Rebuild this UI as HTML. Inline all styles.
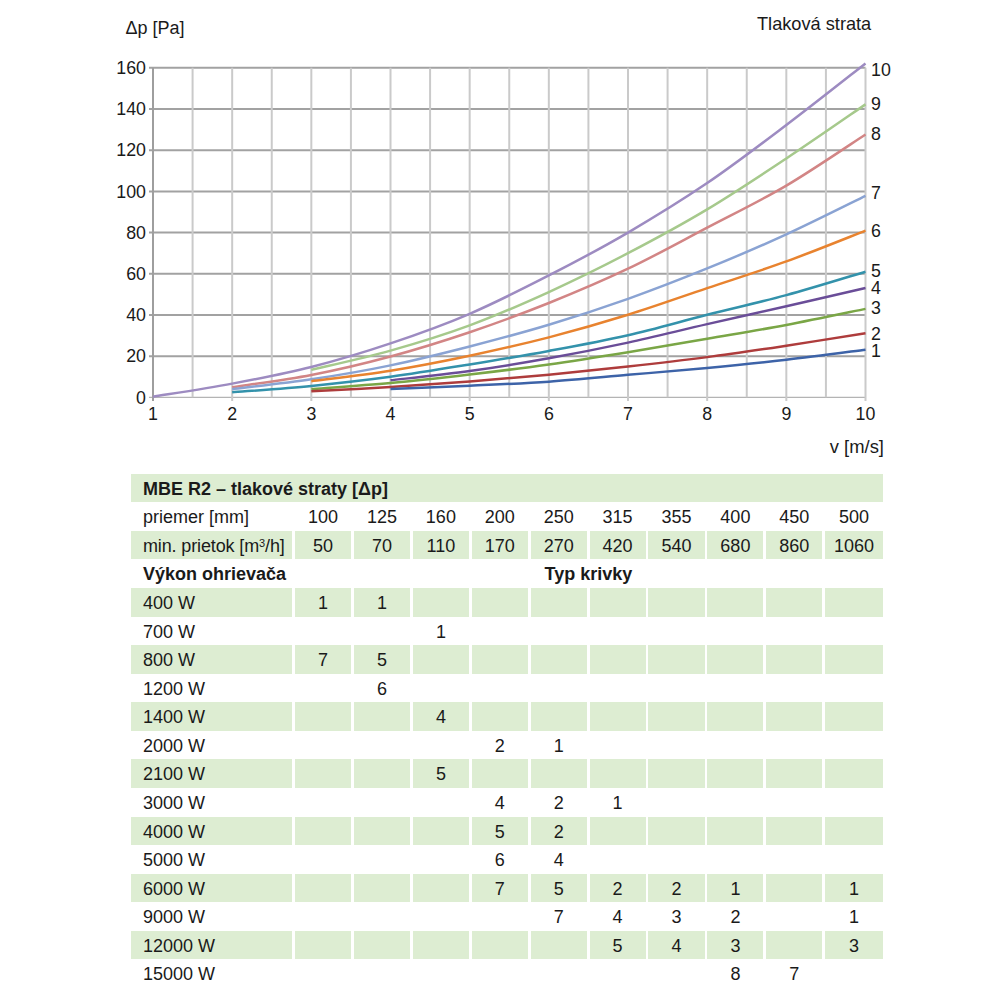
<!DOCTYPE html>
<html><head><meta charset="utf-8"><style>
html,body{margin:0;padding:0;background:#fff;}
body{width:1000px;height:1000px;position:relative;overflow:hidden;font-family:"Liberation Sans", sans-serif;color:#1a1a1a;}
svg text{font-family:"Liberation Sans", sans-serif;}
.bg{position:absolute;background:#ddedd2;}
.t{position:absolute;font-size:18px;line-height:18px;height:18px;white-space:nowrap;}
.t.b{font-weight:bold;}
.t.c{width:80px;text-align:center;}
sup{font-size:11px;vertical-align:top;line-height:11px;position:relative;top:1px;}
</style></head><body>
<svg width="1000" height="470" viewBox="0 0 1000 470" style="position:absolute;left:0;top:0"><line x1="149" y1="356.16" x2="865.50" y2="356.16" stroke="#a2a2a2" stroke-width="2"/><line x1="149" y1="314.96" x2="865.50" y2="314.96" stroke="#a2a2a2" stroke-width="2"/><line x1="149" y1="273.77" x2="865.50" y2="273.77" stroke="#a2a2a2" stroke-width="2"/><line x1="149" y1="232.57" x2="865.50" y2="232.57" stroke="#a2a2a2" stroke-width="2"/><line x1="149" y1="191.38" x2="865.50" y2="191.38" stroke="#a2a2a2" stroke-width="2"/><line x1="149" y1="150.19" x2="865.50" y2="150.19" stroke="#a2a2a2" stroke-width="2"/><line x1="149" y1="108.99" x2="865.50" y2="108.99" stroke="#a2a2a2" stroke-width="2"/><line x1="149" y1="67.80" x2="865.50" y2="67.80" stroke="#a2a2a2" stroke-width="2"/><line x1="149" y1="397.35" x2="865.50" y2="397.35" stroke="#b4b4b4" stroke-width="1.2"/><line x1="192.58" y1="67.80" x2="192.58" y2="397.35" stroke="#cacaca" stroke-width="2"/><line x1="232.17" y1="67.80" x2="232.17" y2="401.00" stroke="#cacaca" stroke-width="2"/><line x1="271.75" y1="67.80" x2="271.75" y2="397.35" stroke="#cacaca" stroke-width="2"/><line x1="311.33" y1="67.80" x2="311.33" y2="401.00" stroke="#cacaca" stroke-width="2"/><line x1="350.92" y1="67.80" x2="350.92" y2="397.35" stroke="#cacaca" stroke-width="2"/><line x1="390.50" y1="67.80" x2="390.50" y2="401.00" stroke="#cacaca" stroke-width="2"/><line x1="430.08" y1="67.80" x2="430.08" y2="397.35" stroke="#cacaca" stroke-width="2"/><line x1="469.67" y1="67.80" x2="469.67" y2="401.00" stroke="#cacaca" stroke-width="2"/><line x1="509.25" y1="67.80" x2="509.25" y2="397.35" stroke="#cacaca" stroke-width="2"/><line x1="548.83" y1="67.80" x2="548.83" y2="401.00" stroke="#cacaca" stroke-width="2"/><line x1="588.42" y1="67.80" x2="588.42" y2="397.35" stroke="#cacaca" stroke-width="2"/><line x1="628.00" y1="67.80" x2="628.00" y2="401.00" stroke="#cacaca" stroke-width="2"/><line x1="667.58" y1="67.80" x2="667.58" y2="397.35" stroke="#cacaca" stroke-width="2"/><line x1="707.17" y1="67.80" x2="707.17" y2="401.00" stroke="#cacaca" stroke-width="2"/><line x1="746.75" y1="67.80" x2="746.75" y2="397.35" stroke="#cacaca" stroke-width="2"/><line x1="786.33" y1="67.80" x2="786.33" y2="401.00" stroke="#cacaca" stroke-width="2"/><line x1="825.92" y1="67.80" x2="825.92" y2="397.35" stroke="#cacaca" stroke-width="2"/><line x1="865.50" y1="67.80" x2="865.50" y2="401.00" stroke="#cacaca" stroke-width="2"/><line x1="153.00" y1="67.80" x2="153.00" y2="401" stroke="#9e9e9e" stroke-width="2"/><path d="M153.00,396.73 C166.19,394.55 205.78,388.58 232.17,383.62 C258.56,378.65 284.94,373.64 311.33,366.93 C337.72,360.22 364.11,352.23 390.50,343.37 C416.89,334.51 443.28,325.10 469.67,313.79 C496.06,302.47 522.44,289.01 548.83,275.47 C575.22,261.93 601.61,247.94 628.00,232.55 C654.39,217.15 680.78,201.00 707.17,183.09 C733.56,165.17 759.94,145.00 786.33,125.06 C812.72,105.12 852.31,73.72 865.50,63.45" fill="none" stroke="#9d8bc1" stroke-width="2.5"/><path d="M311.33,369.91 C324.53,366.69 364.11,358.04 390.50,350.62 C416.89,343.19 443.28,335.13 469.67,325.37 C496.06,315.60 522.44,304.06 548.83,292.04 C575.22,280.01 601.61,266.98 628.00,253.21 C654.39,239.44 680.78,225.21 707.17,209.42 C733.56,193.63 759.94,175.98 786.33,158.47 C812.72,140.97 852.31,113.38 865.50,104.36" fill="none" stroke="#a6c98c" stroke-width="2.5"/><path d="M232.17,387.18 C245.36,385.14 284.94,380.10 311.33,374.99 C337.72,369.87 364.11,363.61 390.50,356.48 C416.89,349.34 443.28,341.11 469.67,332.20 C496.06,323.29 522.44,313.60 548.83,303.02 C575.22,292.44 601.61,281.29 628.00,268.72 C654.39,256.16 680.78,241.50 707.17,227.65 C733.56,213.80 759.94,201.15 786.33,185.63 C812.72,170.10 852.31,143.02 865.50,134.49" fill="none" stroke="#d28585" stroke-width="2.5"/><path d="M232.17,389.14 C245.36,387.50 284.94,383.29 311.33,379.33 C337.72,375.37 364.11,370.85 390.50,365.38 C416.89,359.90 443.28,353.24 469.67,346.47 C496.06,339.70 522.44,332.70 548.83,324.76 C575.22,316.82 601.61,308.22 628.00,298.83 C654.39,289.45 680.78,279.18 707.17,268.44 C733.56,257.70 759.94,246.47 786.33,234.37 C812.72,222.28 852.31,202.30 865.50,195.88" fill="none" stroke="#8aa3d3" stroke-width="2.5"/><path d="M311.33,381.19 C324.53,379.44 364.11,374.94 390.50,370.70 C416.89,366.45 443.28,361.26 469.67,355.70 C496.06,350.14 522.44,344.16 548.83,337.34 C575.22,330.51 601.61,322.94 628.00,314.74 C654.39,306.54 680.78,297.01 707.17,288.12 C733.56,279.24 759.94,271.02 786.33,261.44 C812.72,251.85 852.31,235.76 865.50,230.63" fill="none" stroke="#e8832f" stroke-width="2.5"/><path d="M232.17,392.30 C245.36,391.23 284.94,388.48 311.33,385.90 C337.72,383.31 364.11,380.34 390.50,376.77 C416.89,373.20 443.28,368.79 469.67,364.48 C496.06,360.18 522.44,355.81 548.83,350.93 C575.22,346.05 601.61,341.22 628.00,335.20 C654.39,329.18 680.78,321.47 707.17,314.79 C733.56,308.11 759.94,302.32 786.33,295.14 C812.72,287.97 852.31,275.64 865.50,271.74" fill="none" stroke="#3392ab" stroke-width="2.5"/><path d="M390.50,380.32 C403.69,378.77 443.28,374.69 469.67,371.01 C496.06,367.33 522.44,362.98 548.83,358.25 C575.22,353.52 601.61,348.33 628.00,342.65 C654.39,336.96 680.78,330.19 707.17,324.14 C733.56,318.08 759.94,312.33 786.33,306.32 C812.72,300.30 852.31,291.07 865.50,288.02" fill="none" stroke="#6a4d98" stroke-width="2.5"/><path d="M311.33,389.07 C324.53,388.07 364.11,385.50 390.50,383.08 C416.89,380.66 443.28,377.65 469.67,374.54 C496.06,371.44 522.44,368.18 548.83,364.45 C575.22,360.72 601.61,356.47 628.00,352.18 C654.39,347.89 680.78,343.23 707.17,338.70 C733.56,334.17 759.94,329.96 786.33,324.99 C812.72,320.02 852.31,311.57 865.50,308.89" fill="none" stroke="#7aa646" stroke-width="2.5"/><path d="M311.33,391.24 C324.53,390.53 364.11,388.63 390.50,387.01 C416.89,385.39 443.28,383.56 469.67,381.53 C496.06,379.49 522.44,377.28 548.83,374.78 C575.22,372.28 601.61,369.48 628.00,366.54 C654.39,363.60 680.78,360.61 707.17,357.13 C733.56,353.66 759.94,349.66 786.33,345.68 C812.72,341.70 852.31,335.31 865.50,333.24" fill="none" stroke="#ae3c3c" stroke-width="2.5"/><path d="M390.50,389.09 C403.69,388.52 443.28,386.91 469.67,385.67 C496.06,384.43 522.44,383.45 548.83,381.65 C575.22,379.85 601.61,377.16 628.00,374.87 C654.39,372.58 680.78,370.41 707.17,367.89 C733.56,365.37 759.94,362.77 786.33,359.74 C812.72,356.71 852.31,351.37 865.50,349.69" fill="none" stroke="#3d63a8" stroke-width="2.5"/><text x="146" y="403.55" text-anchor="end" font-size="17.8" fill="#1a1a1a">0</text><text x="146" y="362.36" text-anchor="end" font-size="17.8" fill="#1a1a1a">20</text><text x="146" y="321.16" text-anchor="end" font-size="17.8" fill="#1a1a1a">40</text><text x="146" y="279.97" text-anchor="end" font-size="17.8" fill="#1a1a1a">60</text><text x="146" y="238.77" text-anchor="end" font-size="17.8" fill="#1a1a1a">80</text><text x="146" y="197.58" text-anchor="end" font-size="17.8" fill="#1a1a1a">100</text><text x="146" y="156.39" text-anchor="end" font-size="17.8" fill="#1a1a1a">120</text><text x="146" y="115.19" text-anchor="end" font-size="17.8" fill="#1a1a1a">140</text><text x="146" y="74.00" text-anchor="end" font-size="17.8" fill="#1a1a1a">160</text><text x="153.00" y="419.5" text-anchor="middle" font-size="17.8" fill="#1a1a1a">1</text><text x="232.17" y="419.5" text-anchor="middle" font-size="17.8" fill="#1a1a1a">2</text><text x="311.33" y="419.5" text-anchor="middle" font-size="17.8" fill="#1a1a1a">3</text><text x="390.50" y="419.5" text-anchor="middle" font-size="17.8" fill="#1a1a1a">4</text><text x="469.67" y="419.5" text-anchor="middle" font-size="17.8" fill="#1a1a1a">5</text><text x="548.83" y="419.5" text-anchor="middle" font-size="17.8" fill="#1a1a1a">6</text><text x="628.00" y="419.5" text-anchor="middle" font-size="17.8" fill="#1a1a1a">7</text><text x="707.17" y="419.5" text-anchor="middle" font-size="17.8" fill="#1a1a1a">8</text><text x="786.33" y="419.5" text-anchor="middle" font-size="17.8" fill="#1a1a1a">9</text><text x="865.50" y="419.5" text-anchor="middle" font-size="17.8" fill="#1a1a1a">10</text><text x="871" y="76.20" font-size="17.8" fill="#1a1a1a">10</text><text x="871" y="110.20" font-size="17.8" fill="#1a1a1a">9</text><text x="871" y="140.20" font-size="17.8" fill="#1a1a1a">8</text><text x="871" y="199.20" font-size="17.8" fill="#1a1a1a">7</text><text x="871" y="237.20" font-size="17.8" fill="#1a1a1a">6</text><text x="871" y="276.90" font-size="17.8" fill="#1a1a1a">5</text><text x="871" y="293.80" font-size="17.8" fill="#1a1a1a">4</text><text x="871" y="314.20" font-size="17.8" fill="#1a1a1a">3</text><text x="871" y="339.70" font-size="17.8" fill="#1a1a1a">2</text><text x="871" y="356.70" font-size="17.8" fill="#1a1a1a">1</text><text x="125.5" y="34.4" font-size="18" fill="#1a1a1a">Δp [Pa]</text><text x="757" y="29.8" font-size="18.2" fill="#1a1a1a">Tlaková strata</text><text x="829.8" y="453.2" font-size="18.4" fill="#1a1a1a">v [m/s]</text></svg>
<div class="bg" style="left:131.2px;top:473.70px;width:751.80px;height:28.57px"></div><div class="bg" style="left:131.2px;top:530.84px;width:160.80px;height:28.57px"></div><div class="bg" style="left:295.00px;top:530.84px;width:56.20px;height:28.57px"></div><div class="bg" style="left:353.90px;top:530.84px;width:56.20px;height:28.57px"></div><div class="bg" style="left:412.80px;top:530.84px;width:56.20px;height:28.57px"></div><div class="bg" style="left:471.70px;top:530.84px;width:56.20px;height:28.57px"></div><div class="bg" style="left:530.60px;top:530.84px;width:56.20px;height:28.57px"></div><div class="bg" style="left:589.50px;top:530.84px;width:56.20px;height:28.57px"></div><div class="bg" style="left:648.40px;top:530.84px;width:56.20px;height:28.57px"></div><div class="bg" style="left:707.30px;top:530.84px;width:56.20px;height:28.57px"></div><div class="bg" style="left:766.20px;top:530.84px;width:56.20px;height:28.57px"></div><div class="bg" style="left:825.10px;top:530.84px;width:57.90px;height:28.57px"></div><div class="bg" style="left:131.2px;top:587.98px;width:160.80px;height:28.57px"></div><div class="bg" style="left:295.00px;top:587.98px;width:56.20px;height:28.57px"></div><div class="bg" style="left:353.90px;top:587.98px;width:56.20px;height:28.57px"></div><div class="bg" style="left:412.80px;top:587.98px;width:56.20px;height:28.57px"></div><div class="bg" style="left:471.70px;top:587.98px;width:56.20px;height:28.57px"></div><div class="bg" style="left:530.60px;top:587.98px;width:56.20px;height:28.57px"></div><div class="bg" style="left:589.50px;top:587.98px;width:56.20px;height:28.57px"></div><div class="bg" style="left:648.40px;top:587.98px;width:56.20px;height:28.57px"></div><div class="bg" style="left:707.30px;top:587.98px;width:56.20px;height:28.57px"></div><div class="bg" style="left:766.20px;top:587.98px;width:56.20px;height:28.57px"></div><div class="bg" style="left:825.10px;top:587.98px;width:57.90px;height:28.57px"></div><div class="bg" style="left:131.2px;top:645.12px;width:160.80px;height:28.57px"></div><div class="bg" style="left:295.00px;top:645.12px;width:56.20px;height:28.57px"></div><div class="bg" style="left:353.90px;top:645.12px;width:56.20px;height:28.57px"></div><div class="bg" style="left:412.80px;top:645.12px;width:56.20px;height:28.57px"></div><div class="bg" style="left:471.70px;top:645.12px;width:56.20px;height:28.57px"></div><div class="bg" style="left:530.60px;top:645.12px;width:56.20px;height:28.57px"></div><div class="bg" style="left:589.50px;top:645.12px;width:56.20px;height:28.57px"></div><div class="bg" style="left:648.40px;top:645.12px;width:56.20px;height:28.57px"></div><div class="bg" style="left:707.30px;top:645.12px;width:56.20px;height:28.57px"></div><div class="bg" style="left:766.20px;top:645.12px;width:56.20px;height:28.57px"></div><div class="bg" style="left:825.10px;top:645.12px;width:57.90px;height:28.57px"></div><div class="bg" style="left:131.2px;top:702.26px;width:160.80px;height:28.57px"></div><div class="bg" style="left:295.00px;top:702.26px;width:56.20px;height:28.57px"></div><div class="bg" style="left:353.90px;top:702.26px;width:56.20px;height:28.57px"></div><div class="bg" style="left:412.80px;top:702.26px;width:56.20px;height:28.57px"></div><div class="bg" style="left:471.70px;top:702.26px;width:56.20px;height:28.57px"></div><div class="bg" style="left:530.60px;top:702.26px;width:56.20px;height:28.57px"></div><div class="bg" style="left:589.50px;top:702.26px;width:56.20px;height:28.57px"></div><div class="bg" style="left:648.40px;top:702.26px;width:56.20px;height:28.57px"></div><div class="bg" style="left:707.30px;top:702.26px;width:56.20px;height:28.57px"></div><div class="bg" style="left:766.20px;top:702.26px;width:56.20px;height:28.57px"></div><div class="bg" style="left:825.10px;top:702.26px;width:57.90px;height:28.57px"></div><div class="bg" style="left:131.2px;top:759.40px;width:160.80px;height:28.57px"></div><div class="bg" style="left:295.00px;top:759.40px;width:56.20px;height:28.57px"></div><div class="bg" style="left:353.90px;top:759.40px;width:56.20px;height:28.57px"></div><div class="bg" style="left:412.80px;top:759.40px;width:56.20px;height:28.57px"></div><div class="bg" style="left:471.70px;top:759.40px;width:56.20px;height:28.57px"></div><div class="bg" style="left:530.60px;top:759.40px;width:56.20px;height:28.57px"></div><div class="bg" style="left:589.50px;top:759.40px;width:56.20px;height:28.57px"></div><div class="bg" style="left:648.40px;top:759.40px;width:56.20px;height:28.57px"></div><div class="bg" style="left:707.30px;top:759.40px;width:56.20px;height:28.57px"></div><div class="bg" style="left:766.20px;top:759.40px;width:56.20px;height:28.57px"></div><div class="bg" style="left:825.10px;top:759.40px;width:57.90px;height:28.57px"></div><div class="bg" style="left:131.2px;top:816.54px;width:160.80px;height:28.57px"></div><div class="bg" style="left:295.00px;top:816.54px;width:56.20px;height:28.57px"></div><div class="bg" style="left:353.90px;top:816.54px;width:56.20px;height:28.57px"></div><div class="bg" style="left:412.80px;top:816.54px;width:56.20px;height:28.57px"></div><div class="bg" style="left:471.70px;top:816.54px;width:56.20px;height:28.57px"></div><div class="bg" style="left:530.60px;top:816.54px;width:56.20px;height:28.57px"></div><div class="bg" style="left:589.50px;top:816.54px;width:56.20px;height:28.57px"></div><div class="bg" style="left:648.40px;top:816.54px;width:56.20px;height:28.57px"></div><div class="bg" style="left:707.30px;top:816.54px;width:56.20px;height:28.57px"></div><div class="bg" style="left:766.20px;top:816.54px;width:56.20px;height:28.57px"></div><div class="bg" style="left:825.10px;top:816.54px;width:57.90px;height:28.57px"></div><div class="bg" style="left:131.2px;top:873.68px;width:160.80px;height:28.57px"></div><div class="bg" style="left:295.00px;top:873.68px;width:56.20px;height:28.57px"></div><div class="bg" style="left:353.90px;top:873.68px;width:56.20px;height:28.57px"></div><div class="bg" style="left:412.80px;top:873.68px;width:56.20px;height:28.57px"></div><div class="bg" style="left:471.70px;top:873.68px;width:56.20px;height:28.57px"></div><div class="bg" style="left:530.60px;top:873.68px;width:56.20px;height:28.57px"></div><div class="bg" style="left:589.50px;top:873.68px;width:56.20px;height:28.57px"></div><div class="bg" style="left:648.40px;top:873.68px;width:56.20px;height:28.57px"></div><div class="bg" style="left:707.30px;top:873.68px;width:56.20px;height:28.57px"></div><div class="bg" style="left:766.20px;top:873.68px;width:56.20px;height:28.57px"></div><div class="bg" style="left:825.10px;top:873.68px;width:57.90px;height:28.57px"></div><div class="bg" style="left:131.2px;top:930.82px;width:160.80px;height:28.57px"></div><div class="bg" style="left:295.00px;top:930.82px;width:56.20px;height:28.57px"></div><div class="bg" style="left:353.90px;top:930.82px;width:56.20px;height:28.57px"></div><div class="bg" style="left:412.80px;top:930.82px;width:56.20px;height:28.57px"></div><div class="bg" style="left:471.70px;top:930.82px;width:56.20px;height:28.57px"></div><div class="bg" style="left:530.60px;top:930.82px;width:56.20px;height:28.57px"></div><div class="bg" style="left:589.50px;top:930.82px;width:56.20px;height:28.57px"></div><div class="bg" style="left:648.40px;top:930.82px;width:56.20px;height:28.57px"></div><div class="bg" style="left:707.30px;top:930.82px;width:56.20px;height:28.57px"></div><div class="bg" style="left:766.20px;top:930.82px;width:56.20px;height:28.57px"></div><div class="bg" style="left:825.10px;top:930.82px;width:57.90px;height:28.57px"></div><div class="t b" style="left:143.0px;top:479.66px">MBE R2 – tlakové straty [Δp]</div><div class="t" style="left:143.0px;top:508.23px">priemer [mm]</div><div class="t c" style="left:283.10px;top:508.23px">100</div><div class="t c" style="left:342.00px;top:508.23px">125</div><div class="t c" style="left:400.90px;top:508.23px">160</div><div class="t c" style="left:459.80px;top:508.23px">200</div><div class="t c" style="left:518.70px;top:508.23px">250</div><div class="t c" style="left:577.60px;top:508.23px">315</div><div class="t c" style="left:636.50px;top:508.23px">355</div><div class="t c" style="left:695.40px;top:508.23px">400</div><div class="t c" style="left:754.30px;top:508.23px">450</div><div class="t c" style="left:814.05px;top:508.23px">500</div><div class="t" style="left:143.0px;top:536.80px;letter-spacing:-0.13px">min. prietok [m<sup>3</sup>/h]</div><div class="t c" style="left:283.10px;top:536.80px">50</div><div class="t c" style="left:342.00px;top:536.80px">70</div><div class="t c" style="left:400.90px;top:536.80px">110</div><div class="t c" style="left:459.80px;top:536.80px">170</div><div class="t c" style="left:518.70px;top:536.80px">270</div><div class="t c" style="left:577.60px;top:536.80px">420</div><div class="t c" style="left:636.50px;top:536.80px">540</div><div class="t c" style="left:695.40px;top:536.80px">680</div><div class="t c" style="left:754.30px;top:536.80px">860</div><div class="t c" style="left:814.05px;top:536.80px">1060</div><div class="t b" style="left:143.0px;top:565.37px">Výkon ohrievača</div><div class="t b" style="left:544.6px;top:565.37px">Typ krivky</div><div class="t" style="left:143.0px;top:593.94px">400 W</div><div class="t c" style="left:283.10px;top:593.94px">1</div><div class="t c" style="left:342.00px;top:593.94px">1</div><div class="t" style="left:143.0px;top:622.51px">700 W</div><div class="t c" style="left:400.90px;top:622.51px">1</div><div class="t" style="left:143.0px;top:651.08px">800 W</div><div class="t c" style="left:283.10px;top:651.08px">7</div><div class="t c" style="left:342.00px;top:651.08px">5</div><div class="t" style="left:143.0px;top:679.65px">1200 W</div><div class="t c" style="left:342.00px;top:679.65px">6</div><div class="t" style="left:143.0px;top:708.22px">1400 W</div><div class="t c" style="left:400.90px;top:708.22px">4</div><div class="t" style="left:143.0px;top:736.79px">2000 W</div><div class="t c" style="left:459.80px;top:736.79px">2</div><div class="t c" style="left:518.70px;top:736.79px">1</div><div class="t" style="left:143.0px;top:765.36px">2100 W</div><div class="t c" style="left:400.90px;top:765.36px">5</div><div class="t" style="left:143.0px;top:793.93px">3000 W</div><div class="t c" style="left:459.80px;top:793.93px">4</div><div class="t c" style="left:518.70px;top:793.93px">2</div><div class="t c" style="left:577.60px;top:793.93px">1</div><div class="t" style="left:143.0px;top:822.50px">4000 W</div><div class="t c" style="left:459.80px;top:822.50px">5</div><div class="t c" style="left:518.70px;top:822.50px">2</div><div class="t" style="left:143.0px;top:851.07px">5000 W</div><div class="t c" style="left:459.80px;top:851.07px">6</div><div class="t c" style="left:518.70px;top:851.07px">4</div><div class="t" style="left:143.0px;top:879.64px">6000 W</div><div class="t c" style="left:459.80px;top:879.64px">7</div><div class="t c" style="left:518.70px;top:879.64px">5</div><div class="t c" style="left:577.60px;top:879.64px">2</div><div class="t c" style="left:636.50px;top:879.64px">2</div><div class="t c" style="left:695.40px;top:879.64px">1</div><div class="t c" style="left:814.05px;top:879.64px">1</div><div class="t" style="left:143.0px;top:908.21px">9000 W</div><div class="t c" style="left:518.70px;top:908.21px">7</div><div class="t c" style="left:577.60px;top:908.21px">4</div><div class="t c" style="left:636.50px;top:908.21px">3</div><div class="t c" style="left:695.40px;top:908.21px">2</div><div class="t c" style="left:814.05px;top:908.21px">1</div><div class="t" style="left:143.0px;top:936.78px">12000 W</div><div class="t c" style="left:577.60px;top:936.78px">5</div><div class="t c" style="left:636.50px;top:936.78px">4</div><div class="t c" style="left:695.40px;top:936.78px">3</div><div class="t c" style="left:814.05px;top:936.78px">3</div><div class="t" style="left:143.0px;top:965.35px">15000 W</div><div class="t c" style="left:695.40px;top:965.35px">8</div><div class="t c" style="left:754.30px;top:965.35px">7</div>
</body></html>
